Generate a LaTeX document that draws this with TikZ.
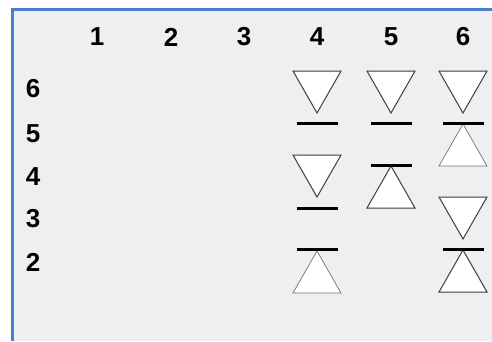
\documentclass[tikz,border=0pt]{standalone}
\usepackage{fontspec}
\setmainfont{Liberation Sans}
\definecolor{panel}{RGB}{239,239,241}
\definecolor{frameblue}{RGB}{74,127,205}
\definecolor{darkedge}{RGB}{60,60,60}
\definecolor{lightedge}{RGB}{115,115,115}
\tikzset{
  lbl/.style={font=\bfseries\fontsize{26}{28}\selectfont, inner sep=0pt},
  barline/.style={line width=3pt, black},
  tri/.style={draw=darkedge, fill=white, line width=1pt},
}
\begin{document}
\begin{tikzpicture}[x=1pt,y=-1pt]
  \useasboundingbox (0,0) rectangle (492,341);
  \fill[white] (0,0) rectangle (492,341);
  \fill[panel] (12.5,9.5) rectangle (492,341);
  \draw[frameblue,line width=3pt] (12.5,341) -- (12.5,9.5) -- (492,9.5);

  \foreach \n/\x in {1/97,2/171,3/244,4/317,5/391,6/463}
    \node[lbl] (col\n) at (\x,37) {\n};
  \foreach \n/\y in {6/89,5/134,4/177,3/219,2/262}
    \node[lbl] (row\n) at (33,\y) {\n};

  % pointing down, top edge at y
  \foreach \x/\y in {317/71,391/71,463/71,317/155,463/197}
    \path[tri] (\x-24,\y)--(\x+24,\y)--(\x,\y+42)--cycle;
  % pointing up, apex at y
  \foreach \x/\y/\c/\w in {317/251/lightedge/0.7,391/166/darkedge/1,463/124/lightedge/0.7,463/250/darkedge/1}
    \path[tri,draw=\c,line width=\w pt] (\x,\y)--(\x+24,\y+42)--(\x-24,\y+42)--cycle;
  \foreach \x/\y in {317/123,391/123,463/123,317/208,391/165,317/249,463/249}
    \draw[barline] (\x-20.5,\y)--(\x+20.5,\y);
\end{tikzpicture}
\end{document}
